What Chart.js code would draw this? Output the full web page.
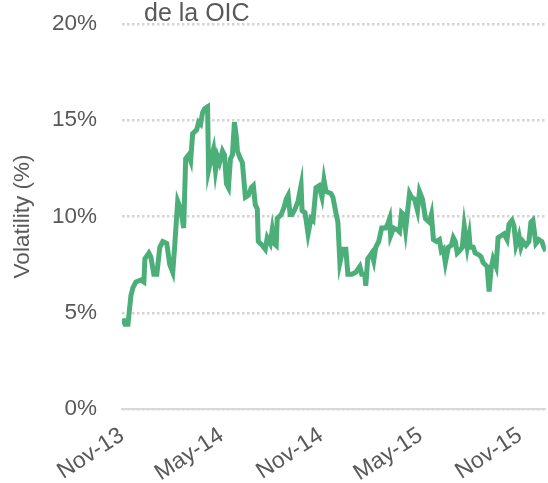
<!DOCTYPE html>
<html>
<head>
<meta charset="utf-8">
<script src="https://cdn.jsdelivr.net/npm/chart.js@4/dist/chart.umd.min.js"></script>
<style>
  html, body { margin: 0; padding: 0; background: #fff; }
  #wrap { position: relative; width: 548px; height: 483px; }
  #title { position: absolute; left: 144px; top: -1px; font: 25px "Liberation Sans", Arial, sans-serif; color: #595959; white-space: nowrap; line-height: 26px; }
</style>
</head>
<body>
<div id="wrap">
  <canvas id="c" width="548" height="483"></canvas>
  <div id="title">de la OIC</div>
</div>
<script>
// Months elapsed since Nov-2013
const months = [0.06,0.18,0.36,0.54,0.66,0.84,1.14,1.32,1.38,1.62,1.74,1.92,2.10,2.28,2.46,2.70,2.88,3.06,3.18,3.36,3.54,3.72,3.84,4.02,4.14,4.26,4.50,4.62,4.74,4.86,4.98,5.16,5.22,5.40,5.52,5.64,5.76,5.88,6.06,6.18,6.30,6.42,6.54,6.66,6.78,6.90,6.96,7.14,7.26,7.32,7.44,7.62,7.80,7.92,8.04,8.16,8.22,8.46,8.64,8.76,8.94,9.06,9.18,9.30,9.36,9.60,9.78,9.90,10.02,10.14,10.26,10.44,10.62,10.80,10.86,11.04,11.22,11.40,11.52,11.70,11.88,12.06,12.18,12.30,12.60,12.72,12.90,13.02,13.14,13.32,13.50,13.62,13.86,14.10,14.34,14.46,14.64,14.70,14.82,15.06,15.18,15.30,15.48,15.66,15.90,16.02,16.14,16.20,16.38,16.62,16.74,16.86,16.98,17.10,17.34,17.46,17.64,17.82,17.94,18.12,18.30,18.54,18.66,18.78,18.96,19.14,19.26,19.38,19.50,19.68,19.86,19.98,20.10,20.22,20.34,20.52,20.64,20.82,20.94,21.00,21.18,21.30,21.54,21.66,21.78,22.02,22.14,22.26,22.38,22.56,22.68,22.86,23.04,23.22,23.34,23.52,23.64,23.76,23.94,24.06,24.18,24.36,24.54,24.66,24.78,24.96,25.14,25.32,25.44,25.56];
// Volatility (%)
const volatility = [4.7,4.4,4.4,5.9,6.3,6.6,6.7,6.6,7.8,8.1,7.9,7.0,7.0,8.4,8.7,8.6,7.5,7.1,8.5,10.8,10.4,9.4,13.0,13.2,12.9,14.3,14.5,14.9,14.8,15.4,15.6,15.7,12.4,13.1,13.5,12.4,13.1,12.8,13.4,13.2,11.7,11.5,13.0,13.2,14.9,14.1,13.4,13.0,12.8,12.2,11.0,11.1,11.5,11.6,10.6,10.4,8.7,8.5,8.3,8.9,8.6,9.3,8.6,8.5,9.9,10.1,10.5,10.9,11.1,10.1,10.1,10.4,10.8,11.6,10.3,10.2,9.1,9.9,9.8,11.5,11.6,11.0,11.9,11.3,11.2,11.0,10.2,9.7,7.6,8.3,8.3,7.0,7.0,7.1,7.4,7.0,7.0,6.4,7.8,8.1,7.7,8.4,8.7,9.4,9.4,9.6,9.9,9.0,9.4,9.3,9.2,10.2,10.1,9.3,11.2,11.0,10.9,10.3,11.3,10.9,9.9,9.7,10.1,8.8,8.7,8.8,8.2,8.3,7.6,8.4,8.5,8.9,8.7,8.1,8.2,8.4,9.5,8.4,9.0,8.4,8.4,8.1,8.0,7.9,7.6,7.4,6.1,7.3,7.8,7.4,8.9,9.0,9.1,8.8,9.6,9.8,9.5,8.5,9.0,8.4,8.7,8.5,8.7,9.7,9.8,8.6,8.8,8.7,8.4,8.2];
const tickMonths = [0, 6, 12, 18, 24];
const tickLabels = ['Nov-13', 'May-14', 'Nov-14', 'May-15', 'Nov-15'];
const yTicks = [0, 5, 10, 15, 20];

const points = months.map((m, i) => ({ x: m, y: volatility[i] }));
const FONT = { family: '"Liberation Sans", Arial, sans-serif', size: 22.5 };
const XFONT = { family: '"Liberation Sans", Arial, sans-serif', size: 23 };
const TXT = '#595959';

new Chart(document.getElementById('c'), {
  type: 'line',
  data: {
    datasets: [{
      data: points,
      borderColor: '#4caf7a',
      borderWidth: 5,
      pointRadius: 0,
      tension: 0,
      fill: false
    }]
  },
  options: {
    responsive: false,
    animation: false,
    layout: { padding: { top: 24, right: 0, left: 0, bottom: 0 } },
    plugins: { legend: { display: false }, tooltip: { enabled: false } },
    scales: {
      x: {
        type: 'linear',
        min: 0,
        max: 25.56,
        afterFit: s => { s.height = 74; },
        afterBuildTicks: s => { s.ticks = tickMonths.map(v => ({ value: v })); },
        grid: { display: true, color: 'rgba(0,0,0,0)', drawTicks: false },
        border: { display: true, color: '#d9d9d9', width: 2 },
        ticks: {
          autoSkip: false,
          minRotation: 33,
          maxRotation: 33,
          padding: 13,
          labelOffset: 0,
          color: TXT,
          font: XFONT,
          callback: v => tickLabels[tickMonths.indexOf(v)]
        }
      },
      y: {
        min: 0,
        max: 20,
        afterFit: s => { s.width = 122; s.paddingTop = 0; s.paddingBottom = 0; },
        afterBuildTicks: s => { s.ticks = yTicks.map(v => ({ value: v })); },
        grid: { color: '#d4d4d4', lineWidth: 2.5, drawTicks: false },
        border: { display: false, dash: [2.5, 2.5] },
        ticks: {
          padding: 25,
          color: TXT,
          font: FONT,
          callback: v => v + '%'
        },
        title: {
          display: true,
          text: 'Volatility (%)',
          color: TXT,
          font: FONT,
          padding: { top: 9, bottom: 0 }
        }
      }
    }
  }
});
</script>
</body>
</html>
